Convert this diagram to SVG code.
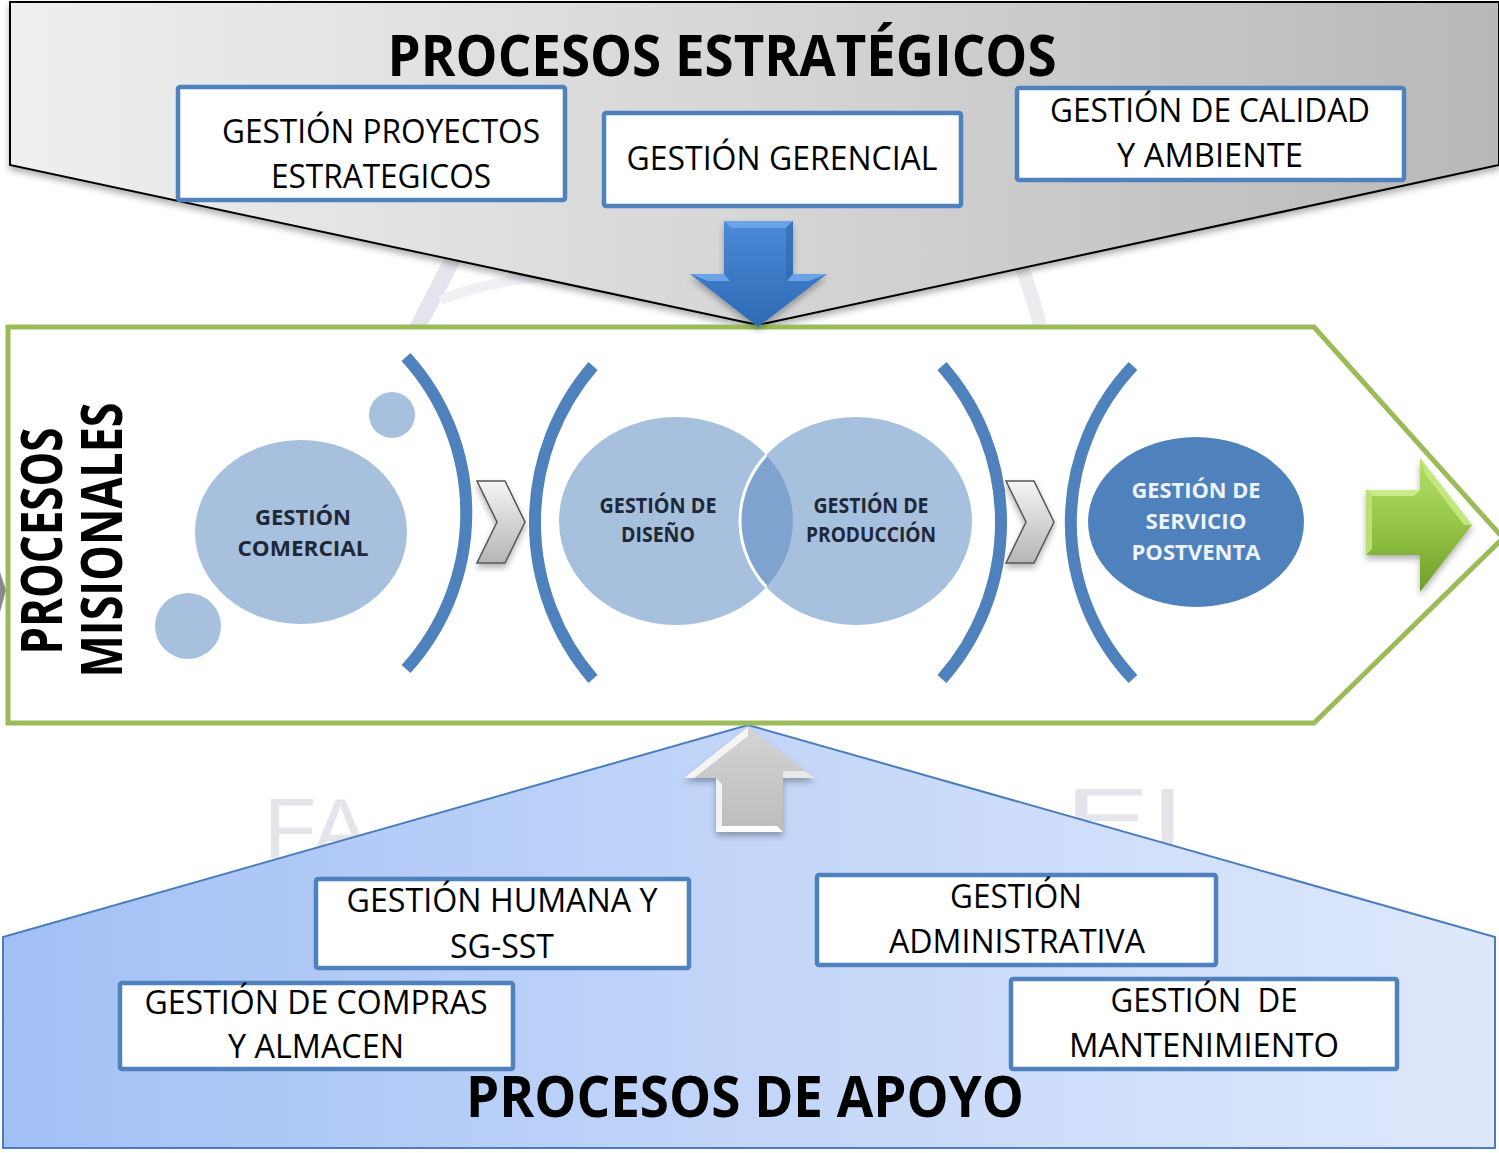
<svg xmlns="http://www.w3.org/2000/svg" width="1499" height="1153" viewBox="0 0 1499 1153">
<defs>
  <linearGradient id="gTop" x1="0" y1="0" x2="1" y2="0">
    <stop offset="0" stop-color="#efefef"/>
    <stop offset="0.5" stop-color="#d6d6d6"/>
    <stop offset="1" stop-color="#b8b8b8"/>
  </linearGradient>
  <linearGradient id="gBot" x1="0" y1="0" x2="1" y2="0">
    <stop offset="0" stop-color="#a2c0f5"/>
    <stop offset="0.5" stop-color="#c3d6f9"/>
    <stop offset="1" stop-color="#dee8fb"/>
  </linearGradient>
  <linearGradient id="gBlue" x1="0" y1="0" x2="0" y2="1">
    <stop offset="0" stop-color="#4b8ad8"/>
    <stop offset="1" stop-color="#2e6ab4"/>
  </linearGradient>
  <linearGradient id="gGray" x1="0" y1="0" x2="0" y2="1">
    <stop offset="0" stop-color="#d4d4d4"/>
    <stop offset="1" stop-color="#bcbcbc"/>
  </linearGradient>
  <linearGradient id="gChev" x1="0" y1="0" x2="0" y2="1">
    <stop offset="0" stop-color="#f4f4f4"/>
    <stop offset="1" stop-color="#b5b5b5"/>
  </linearGradient>
  <linearGradient id="gGreen" x1="0" y1="0" x2="0" y2="1">
    <stop offset="0" stop-color="#b5e06a"/>
    <stop offset="0.5" stop-color="#95c447"/>
    <stop offset="1" stop-color="#6f9e2a"/>
  </linearGradient>
  <filter id="sh" x="-5%" y="-5%" width="110%" height="115%">
    <feDropShadow dx="0" dy="4" stdDeviation="3" flood-color="#000" flood-opacity="0.3"/>
  </filter>
  <clipPath id="clipDis">
    <ellipse cx="676" cy="521" rx="117" ry="104"/>
  </clipPath>
  <style>
    .box { fill: #ffffff; stroke: #4f81bd; stroke-width: 4.5; }
    .bt { font-family: "Open Sans", "Noto Sans", sans-serif; font-size: 32px; fill: #000; text-anchor: middle; }
    .title { font-family: "Open Sans", "Noto Sans", sans-serif; font-weight: bold; font-size: 58px; fill: #000; text-anchor: middle; }
    .ct { font-family: "Open Sans", "Noto Sans", sans-serif; font-weight: bold; font-size: 22px; fill: #1e2836; text-anchor: middle; }
    .ctw { font-family: "Open Sans", "Noto Sans", sans-serif; font-weight: bold; font-size: 22px; fill: #eef3fa; text-anchor: middle; }
    .circ { fill: #a7c0de; }
    .brk { fill: none; stroke: #4f81bd; stroke-width: 12; }
    .chev { fill: url(#gChev); stroke: #555; stroke-width: 1.5; stroke-linejoin: miter; }
    .wm { font-family: "Liberation Sans", sans-serif; font-size: 86px; fill: #e4e4ea; }
  </style>
</defs>

<rect width="1499" height="1153" fill="#ffffff"/>

<!-- faint watermark -->
<g id="watermark">
  <path d="M416,330 L455,255" fill="none" stroke="#e4e4ee" stroke-width="16"/>
  <path d="M440,300 Q490,280 560,275" fill="none" stroke="#f0f0f4" stroke-width="10"/>
  <path d="M1020,262 Q1032,295 1040,325" fill="none" stroke="#ececf0" stroke-width="14"/>
  <text class="wm" x="264" y="858">FA</text>
  <text class="wm" x="1065" y="848" textLength="120" lengthAdjust="spacingAndGlyphs">EI</text>
</g>

<!-- left edge sliver -->
<polygon points="0,572 6,590 0,612" fill="#8a8a8a"/>

<!-- Strategic processes -->
<g id="procesos-estrategicos">
  <polygon points="10,2 1499,2 1499,165 758,325 10,165" fill="url(#gTop)" stroke="#000" stroke-width="2" filter="url(#sh)"/>
  <text class="title" x="722" y="76" textLength="669" lengthAdjust="spacingAndGlyphs">PROCESOS ESTRATÉGICOS</text>
</g>

<g id="gestion-proyectos">
  <rect class="box" x="178" y="87" width="387" height="113" rx="2"/>
  <text class="bt" x="381" y="143" textLength="318" lengthAdjust="spacingAndGlyphs">GESTIÓN PROYECTOS</text>
  <text class="bt" x="381" y="188" textLength="220" lengthAdjust="spacingAndGlyphs">ESTRATEGICOS</text>
</g>
<g id="gestion-gerencial">
  <rect class="box" x="604" y="113" width="357" height="93" rx="2"/>
  <text class="bt" x="782" y="170" textLength="311" lengthAdjust="spacingAndGlyphs">GESTIÓN GERENCIAL</text>
</g>
<g id="gestion-calidad">
  <rect class="box" x="1017" y="88" width="387" height="92" rx="2"/>
  <text class="bt" x="1210" y="122" textLength="320" lengthAdjust="spacingAndGlyphs">GESTIÓN DE CALIDAD</text>
  <text class="bt" x="1210" y="167" textLength="186" lengthAdjust="spacingAndGlyphs">Y AMBIENTE</text>
</g>

<!-- Support processes background -->
<g id="procesos-apoyo">
  <polygon points="748,725 1495,937 1495,1148 3,1148 3,937" fill="url(#gBot)" stroke="#4a7dc0" stroke-width="2"/>
  <text class="title" x="745" y="1117" font-size="56" textLength="558" lengthAdjust="spacingAndGlyphs">PROCESOS DE APOYO</text>
</g>

<!-- Missional processes -->
<g id="procesos-misionales">
  <polygon points="8,327 1314,327 1503,538 1314,723 8,723" fill="#ffffff" stroke="#9bbb59" stroke-width="5"/>
  <text class="title" font-size="50" transform="translate(62,541) rotate(-90)" textLength="227" lengthAdjust="spacingAndGlyphs">PROCESOS</text>
  <text class="title" font-size="50" transform="translate(122,540) rotate(-90)" textLength="275" lengthAdjust="spacingAndGlyphs">MISIONALES</text>
</g>

<g id="gestion-comercial">
  <circle class="circ" cx="392" cy="415" r="23"/>
  <circle class="circ" cx="188" cy="626" r="33"/>
  <ellipse class="circ" cx="301" cy="532" rx="106" ry="92"/>
  <text class="ct" x="303" y="525" textLength="96" lengthAdjust="spacingAndGlyphs">GESTIÓN</text>
  <text class="ct" x="303" y="556" textLength="131" lengthAdjust="spacingAndGlyphs">COMERCIAL</text>
</g>

<g id="gestion-diseno">
  <ellipse class="circ" cx="676" cy="521" rx="117" ry="104"/>
  <text class="ct" x="658" y="513" textLength="117" lengthAdjust="spacingAndGlyphs">GESTIÓN DE</text>
  <text class="ct" x="658" y="542" textLength="74" lengthAdjust="spacingAndGlyphs">DISEÑO</text>
</g>

<g id="gestion-produccion">
  <ellipse class="circ" cx="856" cy="521" rx="116" ry="104"/>
  <ellipse cx="856" cy="521" rx="116" ry="104" fill="#7ea3cf" clip-path="url(#clipDis)"/>
  <ellipse cx="856" cy="521" rx="116" ry="104" fill="none" stroke="#ffffff" stroke-width="3" clip-path="url(#clipDis)"/>
  <text class="ct" x="871" y="513" textLength="115" lengthAdjust="spacingAndGlyphs">GESTIÓN DE</text>
  <text class="ct" x="871" y="542" textLength="130" lengthAdjust="spacingAndGlyphs">PRODUCCIÓN</text>
</g>

<g id="gestion-postventa">
  <ellipse cx="1196" cy="522" rx="108" ry="85" fill="#4f81bd"/>
  <text class="ctw" x="1196" y="498" textLength="129" lengthAdjust="spacingAndGlyphs">GESTIÓN DE</text>
  <text class="ctw" x="1196" y="529" textLength="101" lengthAdjust="spacingAndGlyphs">SERVICIO</text>
  <text class="ctw" x="1196" y="560" textLength="129" lengthAdjust="spacingAndGlyphs">POSTVENTA</text>
</g>

<g id="brackets">
  <path class="brk" d="M406,357 A232,232 0 0 1 406,669"/>
  <path class="brk" d="M593,366 A240,240 0 0 0 593,679"/>
  <path class="brk" d="M942,366 A237,237 0 0 1 942,679"/>
  <path class="brk" d="M1133,366 A228,228 0 0 0 1133,679"/>
</g>

<g id="gestion-humana">
  <rect class="box" x="316" y="879" width="373" height="89" rx="2"/>
  <text class="bt" x="502" y="912" textLength="311" lengthAdjust="spacingAndGlyphs">GESTIÓN HUMANA Y</text>
  <text class="bt" x="502" y="958" textLength="104" lengthAdjust="spacingAndGlyphs">SG-SST</text>
</g>
<g id="gestion-administrativa">
  <rect class="box" x="817" y="875" width="399" height="90" rx="2"/>
  <text class="bt" x="1016" y="908" textLength="132" lengthAdjust="spacingAndGlyphs">GESTIÓN</text>
  <text class="bt" x="1017" y="953" textLength="256" lengthAdjust="spacingAndGlyphs">ADMINISTRATIVA</text>
</g>
<g id="gestion-compras">
  <rect class="box" x="120" y="983" width="393" height="86" rx="2"/>
  <text class="bt" x="316" y="1014" textLength="343" lengthAdjust="spacingAndGlyphs">GESTIÓN DE COMPRAS</text>
  <text class="bt" x="316" y="1058" textLength="176" lengthAdjust="spacingAndGlyphs">Y ALMACEN</text>
</g>
<g id="gestion-mantenimiento">
  <rect class="box" x="1011" y="979" width="386" height="90" rx="2"/>
  <text class="bt" x="1204" y="1012" textLength="187" lengthAdjust="spacingAndGlyphs" xml:space="preserve">GESTIÓN  DE</text>
  <text class="bt" x="1204" y="1057" textLength="270" lengthAdjust="spacingAndGlyphs">MANTENIMIENTO</text>
</g>

<!-- connectors / arrows -->
<g id="connectors">
  <!-- blue down arrow -->
  <g filter="url(#sh)">
    <polygon points="724,221 793,221 793,274 827,274 758,327 690,274 724,274" fill="url(#gBlue)"/>
    <polygon points="724,221 793,221 786,228 731,228" fill="#6aa3e6"/>
    <polygon points="690,274 724,274 730,281 708,281" fill="#6aa3e6"/>
    <polygon points="793,274 827,274 809,281 787,281" fill="#6aa3e6"/>
    <polygon points="793,221 793,274 786,281 786,228" fill="#2d66ad" opacity="0.6"/>
  </g>
  <!-- gray up arrow -->
  <g filter="url(#sh)">
    <polygon points="748,727 815,778 783,778 783,832 716,832 716,778 684,778" fill="url(#gGray)"/>
    <polygon points="748,727 684,778 694,778 748,736" fill="#f4f4f4"/>
    <polygon points="716,778 716,832 722,826 722,784" fill="#f4f4f4"/>
    <polygon points="716,832 783,832 777,826 722,826" fill="#ffffff"/>
    <polygon points="783,778 815,778 805,771 783,771" fill="#e8e8e8"/>
  </g>
  <!-- chevrons -->
  <polygon class="chev" points="477,481 505,481 525,522 505,563 477,563 497,522" filter="url(#sh)"/>
  <polygon class="chev" points="1006,481 1034,481 1054,522 1034,563 1006,563 1026,522" filter="url(#sh)"/>
  <!-- green arrow -->
  <g filter="url(#sh)">
    <polygon points="1366,490 1420,490 1420,458 1472,525 1420,592 1420,555 1366,555" fill="url(#gGreen)"/>
    <polygon points="1366,490 1420,490 1414,496 1372,496" fill="#c9ec8a"/>
    <polygon points="1420,458 1472,525 1464,525 1426,475" fill="#c3e77f"/>
    <polygon points="1366,490 1372,496 1372,549 1366,555" fill="#b9e274"/>
  </g>
</g>
</svg>
